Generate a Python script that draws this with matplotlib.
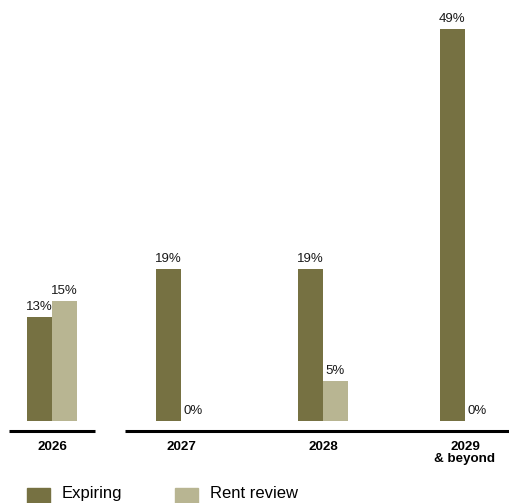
import matplotlib.pyplot as plt
from matplotlib.patches import Rectangle

plt.rcParams['font.family'] = ['Liberation Sans', 'DejaVu Sans']

# lease expiry profile (% of income)
years = ['2026', '2027', '2028', '2029\n& beyond']
expiring = [13, 19, 19, 49]
rent_review = [15, 0, 5, 0]

DARK = '#767142'
LIGHT = '#b8b592'

# layout in pixels (axes spans the whole figure)
W, H = 509, 503
centers = [52, 181, 323, 465]
bw = 25
base_px = 82          # pixel height of zero line from bottom
px_per_pct = 8

fig = plt.figure(figsize=(W / 100, H / 100), dpi=100)
ax = fig.add_axes([0, 0, 1, 1])
ax.set_xlim(0, W)
ax.set_ylim(-base_px / px_per_pct, (H - base_px) / px_per_pct)
ax.axis('off')

xe = [c - bw / 2 for c in centers]
xr = [c + bw / 2 for c in centers]
ax.bar(xe, expiring, width=bw, color=DARK)
ax.bar(xr, rent_review, width=bw, color=LIGHT)

for x, v in zip(xe + xr, expiring + rent_review):
    ax.annotate(f'{v}%', (x, v), xytext=(0, 3), textcoords='offset points',
                ha='center', va='bottom', fontsize=9.5, color='#1a1a1a')

# split baseline
y_line = -10 / px_per_pct
ax.plot([9, 95], [y_line, y_line], color='black', lw=2.2, solid_capstyle='butt')
ax.plot([125, W], [y_line, y_line], color='black', lw=2.2, solid_capstyle='butt')

for c, lab in zip(centers, years):
    ax.text(c, -20 / px_per_pct, lab, ha='center', va='top', fontsize=9.6,
            fontweight='bold', linespacing=0.95)

# legend along the bottom edge
legend_items = [('Expiring', DARK, 27), ('Rent review', LIGHT, 175)]
for name, col, x0 in legend_items:
    fig.patches.append(Rectangle((x0 / W, -8 / H), 23 / W, 23 / H, color=col,
                                 transform=fig.transFigure, figure=fig))
    fig.text((x0 + 35) / W, 5 / H, name, fontsize=12, va='baseline', ha='left')

fig.savefig('out.png', dpi=100)
